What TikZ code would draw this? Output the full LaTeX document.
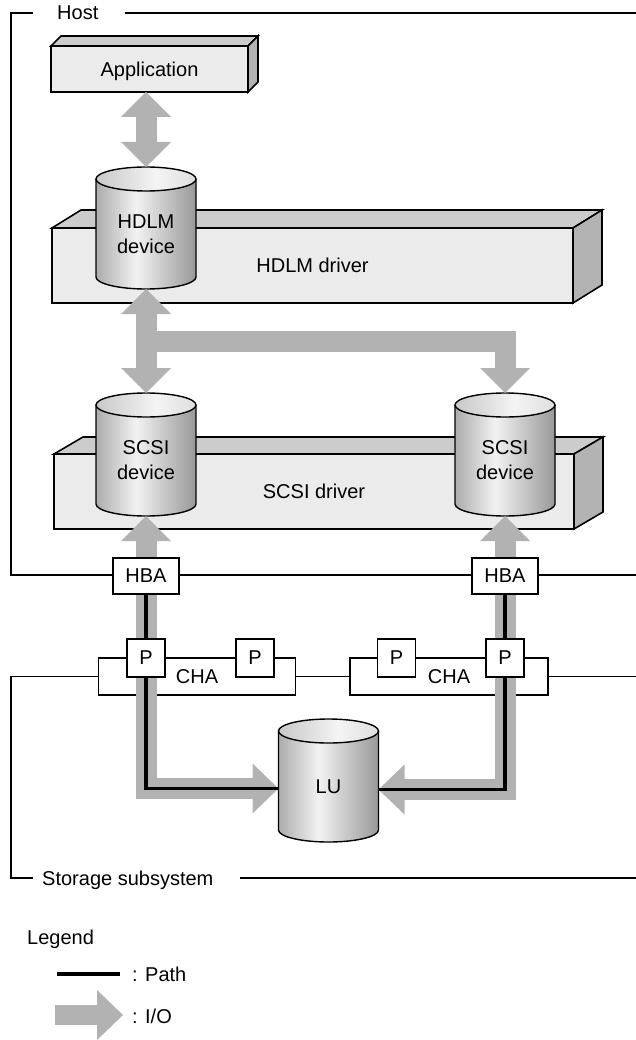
\documentclass[tikz,border=0pt]{standalone}
\usepackage{fontspec}
\setmainfont{Liberation Sans}
\usetikzlibrary{calc}
\definecolor{frontc}{RGB}{235,235,235}
\definecolor{topc}{RGB}{204,204,204}
\definecolor{sidec}{RGB}{179,179,179}
\definecolor{ioc}{RGB}{178,178,178}
\definecolor{cylA}{RGB}{172,172,172}
\definecolor{cylB}{RGB}{242,242,242}
\definecolor{cylC}{RGB}{152,152,152}
\definecolor{capA}{RGB}{200,200,200}
\definecolor{capB}{RGB}{244,244,244}
\definecolor{capC}{RGB}{222,222,222}
\pgfdeclarehorizontalshading{cylbodysh}{100bp}{color(0bp)=(cylA); color(25bp)=(cylA); color(45bp)=(cylB); color(75bp)=(cylC); color(100bp)=(cylC)}
\pgfdeclarehorizontalshading{cylcapsh}{100bp}{color(0bp)=(capA); color(25bp)=(capA); color(55bp)=(capB); color(75bp)=(capC); color(100bp)=(capC)}
\newcommand\iohup[1]{\fill[ioc] (#1) -- ++(-25,25) -- ++(50,0) -- cycle;}
\newcommand\iohdown[1]{\fill[ioc] (#1) -- ++(-25,-25) -- ++(50,0) -- cycle;}
\newcommand\iohright[1]{\fill[ioc] (#1) -- ++(-26,-25) -- ++(0,50) -- cycle;}
\newcommand\iohleft[1]{\fill[ioc] (#1) -- ++(26,-25) -- ++(0,50) -- cycle;}
\newcommand\depthfaces[3]{%
  \filldraw[face, fill=topc] (#1.north west) -- ++(#2,#3) -- ([shift={(#2,#3)}]#1.north east) -- (#1.north east) -- cycle;
  \filldraw[face, fill=sidec] (#1.north east) -- ([shift={(#2,#3)}]#1.north east) -- ([shift={(#2,#3)}]#1.south east) -- (#1.south east) -- cycle;}
\newcommand\drawcyl[5]{%
  \shade[shading=cylbodysh] (#2-50,#3) -- (#2-50,#4) arc[start angle=180,end angle=360,x radius=50pt,y radius=12pt] -- (#2+50,#3) -- cycle;
  \shade[shading=cylcapsh] (#2,#3) ellipse[x radius=50pt,y radius=12pt];
  \draw[cylline] (#2-50,#3) -- (#2-50,#4) arc[start angle=180,end angle=360,x radius=50pt,y radius=12pt] -- (#2+50,#3);
  \draw[cylline] (#2,#3) ellipse[x radius=50pt,y radius=12pt];
  \node[inner sep=0pt, outer sep=0pt, minimum width=100pt, minimum height={#4-#3+24}] (#1) at (#2,{(#3+#4)/2}) {};
  \node[txt, align=center] (#1-t) at (#2,{(#3+#4)/2+6}) {#5};}
\begin{document}
\begin{tikzpicture}[x=1pt,y=-1pt,
  txt/.style={font=\fontsize{20}{25}\selectfont, inner sep=0pt, text depth=0pt},
  face/.style={draw, line width=1.6pt, line join=miter},
  front3d/.style={draw, line width=1.6pt, fill=frontc, inner sep=0pt, outer sep=0pt, text depth=0pt, font=\fontsize{20}{25}\selectfont},
  wbox/.style={draw, line width=1.4pt, fill=white, inner sep=0pt, outer sep=0pt, text depth=0pt, font=\fontsize{20}{25}\selectfont},
  frameline/.style={line width=1.4pt},
  cylline/.style={line width=1.4pt},
  ioshaft/.style={draw=ioc, line width=21pt},
  pathline/.style={line width=3.8pt},
]
\useasboundingbox (0,0) rectangle (636,1040);
% frames
\draw[frameline] (33,13) -- (11,13) -- (11,575) -- (636,575);
\draw[frameline] (125,13) -- (636,13);
\node[txt, anchor=west] (hostlbl) at (57,13) {Host};
\draw[frameline] (33,878) -- (11,878) -- (11,676.5) -- (636,676.5);
\draw[frameline] (240,878) -- (636,878);
\node[txt, anchor=west] (stlbl) at (42,878) {Storage subsystem};
% 3D boxes
\node[front3d, minimum width=197pt, minimum height=46pt] (app) at (149.5,69) {Application};
\depthfaces{app}{10}{-10}
\node[front3d, minimum width=521pt, minimum height=75pt] (hdlmdrv) at (312.5,265.5) {HDLM driver};
\depthfaces{hdlmdrv}{29}{-18}
\node[front3d, minimum width=520pt, minimum height=75pt] (scsidrv) at (314,491.5) {SCSI driver};
\depthfaces{scsidrv}{29}{-17}
% cylinders
\drawcyl{hdlmdev}{146}{179}{277}{HDLM\\device}
\drawcyl{sdev1}{146}{405}{504}{SCSI\\device}
\drawcyl{sdev2}{505}{405}{504}{SCSI\\device}
\drawcyl{lu}{328.5}{731}{830}{LU}
% CHA
\node[wbox, minimum width=197pt, minimum height=37pt] (cha1) at (197,676.5) {CHA};
\node[wbox, minimum width=198pt, minimum height=37pt] (cha2) at (449,676.5) {CHA};
% I/O arrows
\coordinate (a1) at (hdlmdev.north |- app.south);
\draw[ioshaft] ($(a1)+(0,24)$) -- ($(hdlmdev.north)+(0,-24)$);
\iohup{a1} \iohdown{hdlmdev.north}
\draw[ioshaft] ($(hdlmdev.south)+(0,24)$) -- ($(sdev1.north)+(0,-24)$);
\iohup{hdlmdev.south} \iohdown{sdev1.north}
\coordinate (br) at ($(hdlmdev.south)!0.5!(sdev1.north)$);
\draw[ioshaft] (br) -| ($(sdev2.north)+(0,-24)$);
\iohdown{sdev2.north}
\coordinate (luin1) at ($(lu.west)+(0,8)$);
\coordinate (luin2) at ($(lu.east)+(0,9)$);
\draw[ioshaft] ($(sdev1.south)+(0,24)$) |- ($(luin1)+(-24,0)$);
\iohup{sdev1.south} \iohright{luin1}
\draw[ioshaft] ($(sdev2.south)+(0,24)$) |- ($(luin2)+(24,0)$);
\iohup{sdev2.south} \iohleft{luin2}
% HBA, paths, ports
\node[wbox, minimum width=66pt, minimum height=36pt] (hba1) at (146,576) {HBA};
\node[wbox, minimum width=66pt, minimum height=36pt] (hba2) at (505,576) {HBA};
\draw[pathline] (hba1.south) |- (luin1);
\draw[pathline] (hba2.south) |- (luin2);
\node[wbox, minimum size=38pt] (p1) at (146,658) {P};
\node[wbox, minimum size=38pt] (p2) at (255,658) {P};
\node[wbox, minimum size=38pt] (p3) at (396.5,658) {P};
\node[wbox, minimum size=38pt] (p4) at (505,658) {P};
% legend
\node[txt, anchor=west] (leg) at (27,937) {Legend};
\coordinate (lp1) at (57,974);
\coordinate (lp2) at (120,974);
\draw[pathline] (lp1) -- (lp2);
\node[txt, anchor=west] (legp) at (132,974) {: Path};
\coordinate (li1) at (55,1015);
\coordinate (li2) at (123,1015);
\draw[ioshaft, line width=20pt] (li1) -- ($(li2)+(-24,0)$);
\iohright{li2}
\node[txt, anchor=west] (legio) at (132,1016) {: I/O};
\end{tikzpicture}
\end{document}
